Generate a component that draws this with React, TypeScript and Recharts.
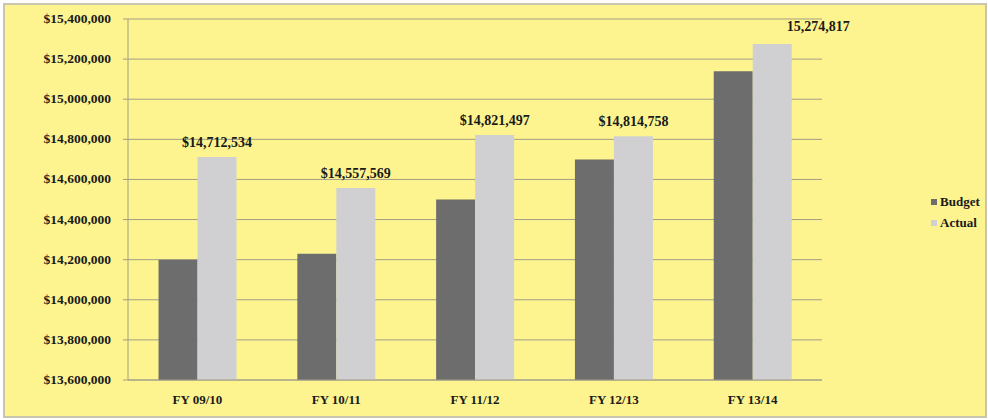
import React from "react";
import { BarChart, Bar, XAxis, YAxis, CartesianGrid, LabelList } from "recharts";

const categories = ["FY 09/10", "FY 10/11", "FY 11/12", "FY 12/13", "FY 13/14"];
const budget = [14200000, 14230000, 14500000, 14700000, 15140000];
const actual = [14712534, 14557569, 14821497, 14814758, 15274817];
const actualLabels = ["$14,712,534", "$14,557,569", "$14,821,497", "$14,814,758", "15,274,817"];
const yTicks = [13600000, 13800000, 14000000, 14200000, 14400000, 14600000, 14800000, 15000000, 15200000, 15400000];
const legendItems = ["Budget", "Actual"];

const data = categories.map((c, i) => ({ name: c, Budget: budget[i], Actual: actual[i], label: actualLabels[i] }));

const FONT = "'Liberation Serif', 'Times New Roman', serif";
const BUDGET_COLOR = "#6d6d6d";
const ACTUAL_COLOR = "#d0d0d2";
const legendColors = [BUDGET_COLOR, ACTUAL_COLOR];

const fmt = (v: number) => "$" + v.toLocaleString("en-US");

const renderLabel = (props: any) => {
  const { x, y, width, index } = props;
  const last = index === actualLabels.length - 1;
  const cx = x + width / 2 + (last ? 46 : 0);
  const cy = y - (last ? 13 : 10);
  return (
    <text x={cx} y={cy} textAnchor="middle" fontFamily={FONT} fontWeight="bold" fontSize={14} fill="#1a1a1a">
      {actualLabels[index]}
    </text>
  );
};

const YTick = (props: any) => {
  const { x, y, payload } = props;
  return (
    <text x={x} y={y} dy={4} textAnchor="end" fontFamily={FONT} fontWeight="bold" fontSize={13.5} fill="#1a1a1a">
      {fmt(payload.value)}
    </text>
  );
};

const XTick = (props: any) => {
  const { x, y, payload } = props;
  return (
    <text x={x} y={y} dy={10} textAnchor="middle" fontFamily={FONT} fontWeight="bold" fontSize={13} fill="#1a1a1a">
      {payload.value}
    </text>
  );
};

export default function App() {
  return (
    <div style={{ position: "absolute", left: 0, top: 0, width: 988, height: 419, background: "#ffffff" }}>
      <div
        style={{
          position: "absolute",
          left: 3,
          top: 3,
          width: 980,
          height: 411,
          background: "#fdf48f",
          border: "2px solid #c9c6b0",
        }}
      />
      <div style={{ position: "absolute", left: 0, top: 0 }}>
        <BarChart
          width={988}
          height={419}
          data={data}
          margin={{ top: 19, right: 166, bottom: 0, left: 10 }}
          barGap={0}
          barCategoryGap="22%"
        >
          <CartesianGrid vertical={false} stroke="#a29e86" strokeWidth={1} />
          <XAxis
            dataKey="name"
            height={39}
            axisLine={{ stroke: "#a29e86" }}
            tickLine={false}
            tick={<XTick />}
            tickMargin={8}
          />
          <YAxis
            domain={[13600000, 15400000]}
            ticks={yTicks}
            interval={0}
            tickFormatter={fmt}
            axisLine={{ stroke: "#a29e86" }}
            tickLine={{ stroke: "#a29e86" }}
            tickSize={5}
            tickMargin={12}
            width={118}
            tick={<YTick />}
          />
          <Bar dataKey="Budget" fill={BUDGET_COLOR} isAnimationActive={false} />
          <Bar dataKey="Actual" fill={ACTUAL_COLOR} isAnimationActive={false}>
            <LabelList dataKey="label" content={renderLabel} />
          </Bar>
        </BarChart>
      </div>
      <div
        style={{
          position: "absolute",
          left: 931,
          top: 191,
          fontFamily: FONT,
          fontWeight: "bold",
          fontSize: 13,
          color: "#1a1a1a",
          lineHeight: "21px",
        }}
      >
        {legendItems.map((n, i) => (
          <div key={n} style={{ display: "flex", alignItems: "center" }}>
            <span style={{ display: "inline-block", width: 6, height: 6, background: legendColors[i], marginRight: 3 }} />
            {n}
          </div>
        ))}
      </div>
    </div>
  );
}
